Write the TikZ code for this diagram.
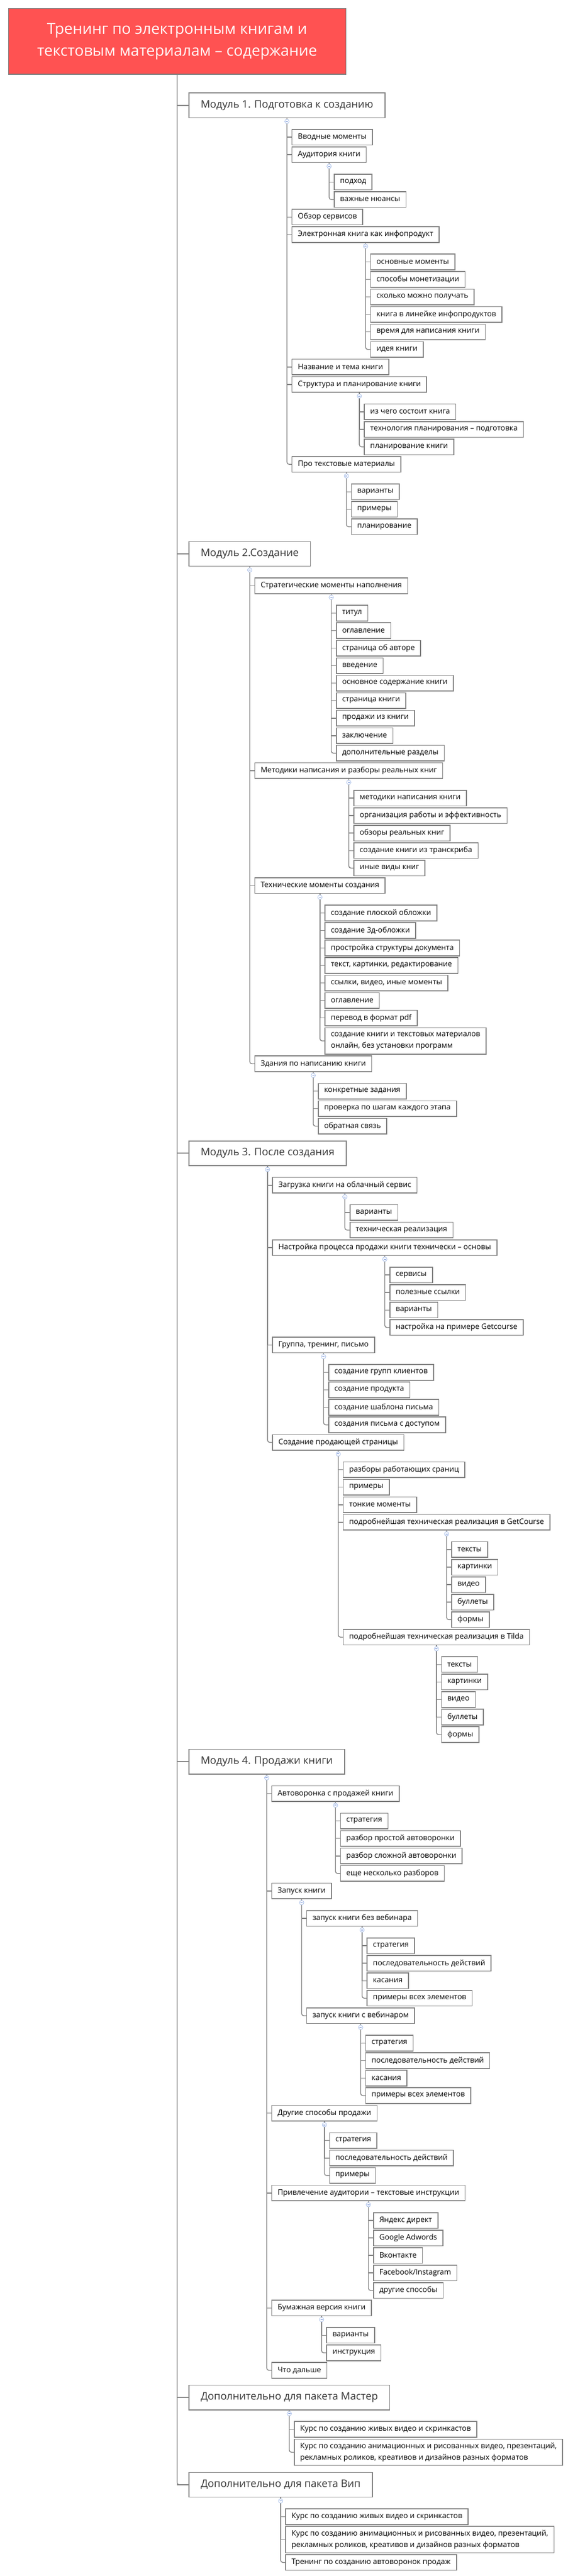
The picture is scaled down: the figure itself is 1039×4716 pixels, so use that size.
\documentclass[tikz,border=0pt]{standalone}
\usepackage{fontspec}
\setmainfont{Open Sans}
\usetikzlibrary{calc}
\definecolor{titlered}{RGB}{255,82,82}
\definecolor{boxgray}{RGB}{128,128,128}
\definecolor{linegray}{RGB}{128,128,128}
\definecolor{txtgray}{RGB}{51,51,51}
\definecolor{markblue}{RGB}{166,189,232}
\definecolor{markdark}{RGB}{110,143,216}
\newdimen\cury
\def\GF{21.5}
\def\GS{3.45}
\tikzset{
  box/.style={draw=boxgray, line width=1.6pt, fill=white, inner xsep=10.7pt, inner ysep=0pt,
    outer sep=0pt, minimum height=28.6pt, font=\fontsize{13.8}{21.3}\selectfont, text=black,
    anchor=north west, align=left},
  boxtwo/.style={box, minimum height=48.3pt},
  modbox/.style={box, inner xsep=21.5pt, minimum height=45.3pt, font=\fontsize{19}{22}\selectfont, text=txtgray},
  ttl/.style={draw=boxgray, fill=titlered, line width=1.6pt, text=white, minimum width=618pt,
    minimum height=120.3pt, align=center, outer sep=0pt, inner sep=0pt, font=\fontsize{28}{40}\selectfont},
  conn/.style={draw=linegray, line width=1.4pt},
  lastkid/.style={rounded corners=4pt},
  rootstub/.style={draw=linegray, line width=2.2pt},
  mk/.style={draw=markblue, line width=0.8pt, fill=white},
}
\newcommand\setcury[1]{\path let \p1=(#1.south) in \pgfextra{\global\cury=-\y1\relax};}
% \nd[conn opts]{name}{parent}{gap}{text}
\newcommand\nd[5][]{%
  \path let \p1=(#3.south) in node[box] (#2) at (\x1+9.3pt,-\the\cury-#4pt) {#5};
  \draw[conn,#1] (#3.south) |- (#2.west);
  \setcury{#2}}
\newcommand\ndd[5][]{%
  \path let \p1=(#3.south) in node[boxtwo] (#2) at (\x1+9.3pt,-\the\cury-#4pt) {#5};
  \draw[conn,#1] (#3.south) |- (#2.west);
  \setcury{#2}}
\newcommand\md[3]{%
  \node[modbox] (#1) at (346pt,-\the\cury-#2pt) {#3};
  \setcury{#1}}
\newcommand\colmark[1]{%
  \draw[mk] ([yshift=-7pt]#1.south) circle [radius=4pt];
  \draw[draw=markdark, line width=0.9pt] ([xshift=-2pt,yshift=-7pt]#1.south) -- ([xshift=2pt,yshift=-7pt]#1.south);}
\begin{document}
\begin{tikzpicture}[x=1pt,y=1pt]
\useasboundingbox (0,0) rectangle (1039,-4716);
\node[ttl, anchor=north west] (T) at (15.3,-15.7) {Тренинг по электронным книгам и\\текстовым материалам – содержание};
\global\cury=136pt
% Module 1
\md{M1}{34}{Модуль 1. Подготовка к созданию}
\nd{a1}{M1}{\GF}{Вводные моменты}
\nd{a2}{M1}{\GS}{Аудитория книги}
\nd{a2a}{a2}{\GF}{подход}
\nd[lastkid]{a2b}{a2}{\GS}{важные нюансы}
\nd{a3}{M1}{\GS}{Обзор сервисов}
\nd{a4}{M1}{\GS}{Электронная книга как инфопродукт}
\nd{a4a}{a4}{\GF}{основные моменты}
\nd{a4b}{a4}{\GS}{способы монетизации}
\nd{a4c}{a4}{\GS}{сколько можно получать}
\nd{a4d}{a4}{\GS}{книга в линейке инфопродуктов}
\nd{a4e}{a4}{\GS}{время для написания книги}
\nd[lastkid]{a4f}{a4}{\GS}{идея книги}
\nd{a5}{M1}{\GS}{Название и тема книги}
\nd{a6}{M1}{\GS}{Структура и планирование книги}
\nd{a6a}{a6}{\GF}{из чего состоит книга}
\nd{a6b}{a6}{\GS}{технология планирования – подготовка}
\nd[lastkid]{a6c}{a6}{\GS}{планирование книги}
\nd[lastkid]{a7}{M1}{\GS}{Про текстовые материалы}
\nd{a7a}{a7}{\GF}{варианты}
\nd{a7b}{a7}{\GS}{примеры}
\nd[lastkid]{a7c}{a7}{\GS}{планирование}
% Module 2
\md{M2}{12.7}{Модуль 2.Создание}
\nd{b1}{M2}{\GF}{Стратегические моменты наполнения}
\nd{b1a}{b1}{\GF}{титул}
\nd{b1b}{b1}{\GS}{оглавление}
\nd{b1c}{b1}{\GS}{страница об авторе}
\nd{b1d}{b1}{\GS}{введение}
\nd{b1e}{b1}{\GS}{основное содержание книги}
\nd{b1f}{b1}{\GS}{страница книги}
\nd{b1g}{b1}{\GS}{продажи из книги}
\nd{b1h}{b1}{\GS}{заключение}
\nd[lastkid]{b1i}{b1}{\GS}{дополнительные разделы}
\nd{b2}{M2}{\GS}{Методики написания и разборы реальных книг}
\nd{b2a}{b2}{\GF}{методики написания книги}
\nd{b2b}{b2}{\GS}{организация работы и эффективность}
\nd{b2c}{b2}{\GS}{обзоры реальных книг}
\nd{b2d}{b2}{\GS}{создание книги из транскриба}
\nd[lastkid]{b2e}{b2}{\GS}{иные виды книг}
\nd{b3}{M2}{\GS}{Технические моменты создания}
\nd{b3a}{b3}{\GF}{создание плоской обложки}
\nd{b3b}{b3}{\GS}{создание 3д-обложки}
\nd{b3c}{b3}{\GS}{простройка структуры документа}
\nd{b3d}{b3}{\GS}{текст, картинки, редактирование}
\nd{b3e}{b3}{\GS}{ссылки, видео, иные моменты}
\nd{b3f}{b3}{\GS}{оглавление}
\nd{b3g}{b3}{\GS}{перевод в формат pdf}
\ndd[lastkid]{b3h}{b3}{\GS}{создание книги и текстовых материалов\\онлайн, без установки программ}
\nd[lastkid]{b4}{M2}{\GS}{Здания по написанию книги}
\nd{b4a}{b4}{\GF}{конкретные задания}
\nd{b4b}{b4}{\GS}{проверка по шагам каждого этапа}
\nd[lastkid]{b4c}{b4}{\GS}{обратная связь}
% Module 3
\md{M3}{12.7}{Модуль 3. После создания}
\nd{c1}{M3}{\GF}{Загрузка книги на облачный сервис}
\nd{c1a}{c1}{\GF}{варианты}
\nd[lastkid]{c1b}{c1}{\GS}{техническая реализация}
\nd{c2}{M3}{\GS}{Настройка процесса продажи книги технически – основы}
\nd{c2a}{c2}{\GF}{сервисы}
\nd{c2b}{c2}{\GS}{полезные ссылки}
\nd{c2c}{c2}{\GS}{варианты}
\nd[lastkid]{c2d}{c2}{\GS}{настройка на примере Getcourse}
\nd{c3}{M3}{\GS}{Группа, тренинг, письмо}
\nd{c3a}{c3}{\GF}{создание групп клиентов}
\nd{c3b}{c3}{\GS}{создание продукта}
\nd{c3c}{c3}{\GS}{создание шаблона письма}
\nd[lastkid]{c3d}{c3}{\GS}{создания письма с доступом}
\nd[lastkid]{c4}{M3}{\GS}{Создание продающей страницы}
\nd{c4a}{c4}{\GF}{разборы работающих сраниц}
\nd{c4b}{c4}{\GS}{примеры}
\nd{c4c}{c4}{\GS}{тонкие моменты}
\nd{c4d}{c4}{\GS}{подробнейшая техническая реализация в GetCourse}
\nd{c4d1}{c4d}{\GF}{тексты}
\nd{c4d2}{c4d}{\GS}{картинки}
\nd{c4d3}{c4d}{\GS}{видео}
\nd{c4d4}{c4d}{\GS}{буллеты}
\nd[lastkid]{c4d5}{c4d}{\GS}{формы}
\nd[lastkid]{c4e}{c4}{\GS}{подробнейшая техническая реализация в Tilda}
\nd{c4e1}{c4e}{\GF}{тексты}
\nd{c4e2}{c4e}{\GS}{картинки}
\nd{c4e3}{c4e}{\GS}{видео}
\nd{c4e4}{c4e}{\GS}{буллеты}
\nd[lastkid]{c4e5}{c4e}{\GS}{формы}
% Module 4
\md{M4}{12.7}{Модуль 4. Продажи книги}
\nd{d1}{M4}{\GF}{Автоворонка с продажей книги}
\nd{d1a}{d1}{\GF}{стратегия}
\nd{d1b}{d1}{\GS}{разбор простой автоворонки}
\nd{d1c}{d1}{\GS}{разбор сложной автоворонки}
\nd[lastkid]{d1d}{d1}{\GS}{еще несколько разборов}
\nd{d2}{M4}{\GS}{Запуск книги}
\nd{d2a}{d2}{\GF}{запуск книги без вебинара}
\nd{d2a1}{d2a}{\GF}{стратегия}
\nd{d2a2}{d2a}{\GS}{последовательность действий}
\nd{d2a3}{d2a}{\GS}{касания}
\nd[lastkid]{d2a4}{d2a}{\GS}{примеры всех элементов}
\nd[lastkid]{d2b}{d2}{\GS}{запуск книги с вебинаром}
\nd{d2b1}{d2b}{\GF}{стратегия}
\nd{d2b2}{d2b}{\GS}{последовательность действий}
\nd{d2b3}{d2b}{\GS}{касания}
\nd[lastkid]{d2b4}{d2b}{\GS}{примеры всех элементов}
\nd{d3}{M4}{\GS}{Другие способы продажи}
\nd{d3a}{d3}{\GF}{стратегия}
\nd{d3b}{d3}{\GS}{последовательность действий}
\nd[lastkid]{d3c}{d3}{\GS}{примеры}
\nd{d4}{M4}{\GS}{Привлечение аудитории – текстовые инструкции}
\nd{d4a}{d4}{\GF}{Яндекс директ}
\nd{d4b}{d4}{\GS}{Google Adwords}
\nd{d4c}{d4}{\GS}{Вконтакте}
\nd{d4d}{d4}{\GS}{Facebook/Instagram}
\nd[lastkid]{d4e}{d4}{\GS}{другие способы}
\nd{d5}{M4}{\GS}{Бумажная версия книги}
\nd{d5a}{d5}{\GF}{варианты}
\nd[lastkid]{d5b}{d5}{\GS}{инструкция}
\nd[lastkid]{d6}{M4}{\GS}{Что дальше}
% Module 5
\md{M5}{12.7}{Дополнительно для пакета Мастер}
\nd{e1}{M5}{\GF}{Курс по созданию живых видео и скринкастов}
\ndd[lastkid]{e2}{M5}{\GS}{Курс по созданию анимационных и рисованных видео, презентаций,\\рекламных роликов, креативов и дизайнов разных форматов}
% Module 6
\md{M6}{12.7}{Дополнительно для пакета Вип}
\nd{f1}{M6}{\GF}{Курс по созданию живых видео и скринкастов}
\ndd{f2}{M6}{\GS}{Курс по созданию анимационных и рисованных видео, презентаций,\\рекламных роликов, креативов и дизайнов разных форматов}
\nd[lastkid]{f3}{M6}{\GS}{Тренинг по созданию автоворонок продаж}
% root connectors
\draw[conn, rounded corners=4pt] (T.south) |- (M6.west);
\foreach \m in {M1,M2,M3,M4,M5,M6} { \draw[rootstub] (T.south |- \m.west) -- (\m.west); }
% collapse markers
\foreach \p in {M1,a2,a4,a6,a7,M2,b1,b2,b3,b4,M3,c1,c2,c3,c4,c4d,c4e,M4,d1,d2,d2a,d2b,d3,d4,d5,M5,M6} { \colmark{\p} }
\end{tikzpicture}
\end{document}
